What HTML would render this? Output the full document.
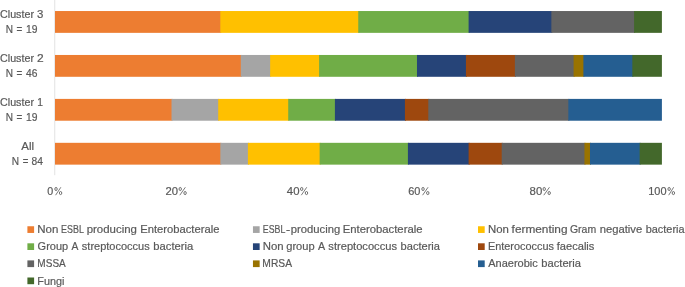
<!DOCTYPE html>
<html><head><meta charset="utf-8"><title>Chart</title>
<style>
html,body{margin:0;padding:0;background:#fff;}
body{width:685px;height:287px;overflow:hidden;}
svg{display:block;will-change:transform;}
text{font-family:"Liberation Sans",sans-serif;font-size:11px;fill:#595959;stroke:#595959;stroke-width:0.2px;}
</style></head><body>
<svg width="685" height="287" viewBox="0 0 685 287">
<rect width="685" height="287" fill="#fff"/>
<rect x="54" y="0" width="1" height="175.2" fill="#E9E9E9"/><rect x="55" y="0" width="1" height="175.2" fill="#F8F8F8"/>
<rect x="55.00" y="11.03" width="166.32" height="21.82" fill="#ED7D31"/>
<rect x="220.32" y="11.03" width="138.93" height="21.82" fill="#FFC000"/>
<rect x="358.25" y="11.03" width="111.35" height="21.82" fill="#70AD47"/>
<rect x="468.60" y="11.03" width="83.76" height="21.82" fill="#264478"/>
<rect x="551.35" y="11.03" width="83.76" height="21.82" fill="#636363"/>
<rect x="634.11" y="11.03" width="27.79" height="21.82" fill="#43682B"/>
<rect x="55.00" y="54.97" width="186.79" height="21.82" fill="#ED7D31"/>
<rect x="240.79" y="54.97" width="30.37" height="21.82" fill="#A5A5A5"/>
<rect x="270.15" y="54.97" width="49.94" height="21.82" fill="#FFC000"/>
<rect x="319.10" y="54.97" width="98.89" height="21.82" fill="#70AD47"/>
<rect x="416.98" y="54.97" width="49.94" height="21.82" fill="#264478"/>
<rect x="465.93" y="54.97" width="49.94" height="21.82" fill="#9E480E"/>
<rect x="514.87" y="54.97" width="59.73" height="21.82" fill="#636363"/>
<rect x="573.60" y="54.97" width="10.79" height="21.82" fill="#997300"/>
<rect x="583.39" y="54.97" width="49.94" height="21.82" fill="#255E91"/>
<rect x="632.33" y="54.97" width="29.57" height="21.82" fill="#43682B"/>
<rect x="55.00" y="98.90" width="117.51" height="21.82" fill="#ED7D31"/>
<rect x="171.51" y="98.90" width="47.68" height="21.82" fill="#A5A5A5"/>
<rect x="218.20" y="98.90" width="71.03" height="21.82" fill="#FFC000"/>
<rect x="288.22" y="98.90" width="47.68" height="21.82" fill="#70AD47"/>
<rect x="334.91" y="98.90" width="71.03" height="21.82" fill="#264478"/>
<rect x="404.93" y="98.90" width="24.34" height="21.82" fill="#9E480E"/>
<rect x="428.28" y="98.90" width="141.05" height="21.82" fill="#636363"/>
<rect x="568.33" y="98.90" width="93.57" height="21.82" fill="#255E91"/>
<rect x="55.00" y="142.82" width="166.32" height="21.82" fill="#ED7D31"/>
<rect x="220.32" y="142.82" width="28.59" height="21.82" fill="#A5A5A5"/>
<rect x="247.90" y="142.82" width="72.72" height="21.82" fill="#FFC000"/>
<rect x="319.63" y="142.82" width="89.28" height="21.82" fill="#70AD47"/>
<rect x="407.91" y="142.82" width="61.69" height="21.82" fill="#264478"/>
<rect x="468.60" y="142.82" width="34.10" height="21.82" fill="#9E480E"/>
<rect x="501.70" y="142.82" width="83.76" height="21.82" fill="#636363"/>
<rect x="584.46" y="142.82" width="6.52" height="21.82" fill="#997300"/>
<rect x="589.98" y="142.82" width="50.66" height="21.82" fill="#255E91"/>
<rect x="639.63" y="142.82" width="22.27" height="21.82" fill="#43682B"/>
<rect x="27.40" y="226.25" width="6.70" height="6.70" fill="#ED7D31"/>
<rect x="252.95" y="226.25" width="6.70" height="6.70" fill="#A5A5A5"/>
<rect x="478.00" y="226.25" width="6.70" height="6.70" fill="#FFC000"/>
<rect x="27.40" y="243.30" width="6.70" height="6.70" fill="#70AD47"/>
<rect x="252.95" y="243.30" width="6.70" height="6.70" fill="#264478"/>
<rect x="478.00" y="243.30" width="6.70" height="6.70" fill="#9E480E"/>
<rect x="27.40" y="260.40" width="6.70" height="6.70" fill="#636363"/>
<rect x="252.95" y="260.40" width="6.70" height="6.70" fill="#997300"/>
<rect x="478.00" y="260.40" width="6.70" height="6.70" fill="#255E91"/>
<rect x="27.40" y="277.50" width="6.70" height="6.70" fill="#43682B"/>
<text id="c0a" x="-0.01" y="18.30" textLength="34.01" lengthAdjust="spacingAndGlyphs">Cluster</text>
<text id="c0n" x="37.08" y="18.30" textLength="6.35" lengthAdjust="spacingAndGlyphs">3</text>
<text id="c0b" x="5.73" y="32.80" textLength="7.27" lengthAdjust="spacingAndGlyphs">N</text>
<text id="c0e" x="16.56" y="32.80" textLength="5.76" lengthAdjust="spacingAndGlyphs">=</text>
<text id="c0v" x="26.05" y="32.80" textLength="11.48" lengthAdjust="spacingAndGlyphs">19</text>
<text id="c1a" x="-0.01" y="62.30" textLength="34.01" lengthAdjust="spacingAndGlyphs">Cluster</text>
<text id="c1n" x="36.91" y="62.30" textLength="6.66" lengthAdjust="spacingAndGlyphs">2</text>
<text id="c1b" x="5.73" y="76.80" textLength="7.27" lengthAdjust="spacingAndGlyphs">N</text>
<text id="c1e" x="16.56" y="76.80" textLength="5.76" lengthAdjust="spacingAndGlyphs">=</text>
<text id="c1v" x="26.12" y="76.80" textLength="11.40" lengthAdjust="spacingAndGlyphs">46</text>
<text id="c2a" x="-0.01" y="106.30" textLength="34.01" lengthAdjust="spacingAndGlyphs">Cluster</text>
<text id="c2n" x="37.24" y="106.30" textLength="5.71" lengthAdjust="spacingAndGlyphs">1</text>
<text id="c2b" x="5.73" y="120.80" textLength="7.27" lengthAdjust="spacingAndGlyphs">N</text>
<text id="c2e" x="16.56" y="120.80" textLength="5.76" lengthAdjust="spacingAndGlyphs">=</text>
<text id="c2v" x="26.05" y="120.80" textLength="11.48" lengthAdjust="spacingAndGlyphs">19</text>
<text id="c3a" x="21.38" y="150.30" textLength="12.78" lengthAdjust="spacingAndGlyphs">All</text>
<text id="c3b" x="11.86" y="164.80" textLength="7.31" lengthAdjust="spacingAndGlyphs">N</text>
<text id="c3e" x="22.82" y="164.80" textLength="5.62" lengthAdjust="spacingAndGlyphs">=</text>
<text id="c3v" x="31.48" y="164.80" textLength="11.41" lengthAdjust="spacingAndGlyphs">84</text>
<text id="a0d" x="47.33" y="195.10" textLength="5.96" lengthAdjust="spacingAndGlyphs">0</text>
<text id="a1d" x="165.60" y="195.10" textLength="12.54" lengthAdjust="spacingAndGlyphs">20</text>
<text id="a2d" x="286.87" y="195.10" textLength="12.65" lengthAdjust="spacingAndGlyphs">40</text>
<text id="a3d" x="408.22" y="195.10" textLength="12.19" lengthAdjust="spacingAndGlyphs">60</text>
<text id="a4d" x="529.60" y="195.10" textLength="12.68" lengthAdjust="spacingAndGlyphs">80</text>
<text id="a5d" x="648.21" y="195.10" textLength="18.31" lengthAdjust="spacingAndGlyphs">100</text>
<text id="l000" x="37.19" y="233.25" textLength="21.10" lengthAdjust="spacingAndGlyphs">Non</text>
<text id="l001" x="61.10" y="233.25" textLength="22.78" lengthAdjust="spacingAndGlyphs">ESBL</text>
<text id="l002" x="86.73" y="233.25" textLength="50.16" lengthAdjust="spacingAndGlyphs">producing</text>
<text id="l003" x="140.24" y="233.25" textLength="79.14" lengthAdjust="spacingAndGlyphs">Enterobacterale</text>
<text id="l010" x="262.85" y="233.25" textLength="22.54" lengthAdjust="spacingAndGlyphs">ESBL</text>
<text id="l011" x="285.91" y="233.25" textLength="4.18" lengthAdjust="spacingAndGlyphs">-</text>
<text id="l012" x="290.86" y="233.25" textLength="49.41" lengthAdjust="spacingAndGlyphs">producing</text>
<text id="l013" x="342.74" y="233.25" textLength="79.77" lengthAdjust="spacingAndGlyphs">Enterobacterale</text>
<text id="l020" x="487.93" y="233.25" textLength="20.87" lengthAdjust="spacingAndGlyphs">Non</text>
<text id="l021" x="511.62" y="233.25" textLength="55.89" lengthAdjust="spacingAndGlyphs">fermenting</text>
<text id="l022" x="569.98" y="233.25" textLength="26.17" lengthAdjust="spacingAndGlyphs">Gram</text>
<text id="l023" x="599.73" y="233.25" textLength="42.53" lengthAdjust="spacingAndGlyphs">negative</text>
<text id="l024" x="645.74" y="233.25" textLength="38.76" lengthAdjust="spacingAndGlyphs">bacteria</text>
<text id="l100" x="37.61" y="250.30" textLength="30.52" lengthAdjust="spacingAndGlyphs">Group</text>
<text id="l101" x="71.62" y="250.30" textLength="6.88" lengthAdjust="spacingAndGlyphs">A</text>
<text id="l102" x="81.87" y="250.30" textLength="67.88" lengthAdjust="spacingAndGlyphs">streptococcus</text>
<text id="l103" x="153.37" y="250.30" textLength="39.88" lengthAdjust="spacingAndGlyphs">bacteria</text>
<text id="l110" x="262.69" y="250.30" textLength="20.86" lengthAdjust="spacingAndGlyphs">Non</text>
<text id="l111" x="286.24" y="250.30" textLength="28.40" lengthAdjust="spacingAndGlyphs">group</text>
<text id="l112" x="318.12" y="250.30" textLength="7.13" lengthAdjust="spacingAndGlyphs">A</text>
<text id="l113" x="328.37" y="250.30" textLength="68.63" lengthAdjust="spacingAndGlyphs">streptococcus</text>
<text id="l114" x="400.62" y="250.30" textLength="39.38" lengthAdjust="spacingAndGlyphs">bacteria</text>
<text id="l120" x="487.99" y="250.30" textLength="65.90" lengthAdjust="spacingAndGlyphs">Enterococcus</text>
<text id="l121" x="556.75" y="250.30" textLength="37.63" lengthAdjust="spacingAndGlyphs">faecalis</text>
<text id="l200" x="37.36" y="267.40" textLength="28.39" lengthAdjust="spacingAndGlyphs">MSSA</text>
<text id="l210" x="262.36" y="267.40" textLength="29.64" lengthAdjust="spacingAndGlyphs">MRSA</text>
<text id="l220" x="488.25" y="267.40" textLength="49.50" lengthAdjust="spacingAndGlyphs">Anaerobic</text>
<text id="l221" x="541.37" y="267.40" textLength="39.63" lengthAdjust="spacingAndGlyphs">bacteria</text>
<text id="l300" x="37.33" y="284.50" textLength="27.08" lengthAdjust="spacingAndGlyphs">Fungi</text>
<g fill="none" stroke="#595959" stroke-width="0.85"><ellipse cx="56.02" cy="189.0" rx="1.2" ry="1.55"/><ellipse cx="60.58" cy="193.05" rx="1.2" ry="1.55"/><path d="M60.85 187.25 L55.60 195.2" stroke-width="0.8"/></g>
<g fill="none" stroke="#595959" stroke-width="0.85"><ellipse cx="180.22" cy="189.0" rx="1.2" ry="1.55"/><ellipse cx="185.08" cy="193.05" rx="1.2" ry="1.55"/><path d="M185.35 187.25 L179.80 195.2" stroke-width="0.8"/></g>
<g fill="none" stroke="#595959" stroke-width="0.85"><ellipse cx="301.72" cy="189.0" rx="1.2" ry="1.55"/><ellipse cx="306.48" cy="193.05" rx="1.2" ry="1.55"/><path d="M306.75 187.25 L301.30 195.2" stroke-width="0.8"/></g>
<g fill="none" stroke="#595959" stroke-width="0.85"><ellipse cx="423.02" cy="189.0" rx="1.2" ry="1.55"/><ellipse cx="427.78" cy="193.05" rx="1.2" ry="1.55"/><path d="M428.05 187.25 L422.60 195.2" stroke-width="0.8"/></g>
<g fill="none" stroke="#595959" stroke-width="0.85"><ellipse cx="544.22" cy="189.0" rx="1.2" ry="1.55"/><ellipse cx="549.18" cy="193.05" rx="1.2" ry="1.55"/><path d="M549.45 187.25 L543.80 195.2" stroke-width="0.8"/></g>
<g fill="none" stroke="#595959" stroke-width="0.85"><ellipse cx="669.12" cy="189.0" rx="1.2" ry="1.55"/><ellipse cx="673.38" cy="193.05" rx="1.2" ry="1.55"/><path d="M673.65 187.25 L668.70 195.2" stroke-width="0.8"/></g>
</svg></body></html>
